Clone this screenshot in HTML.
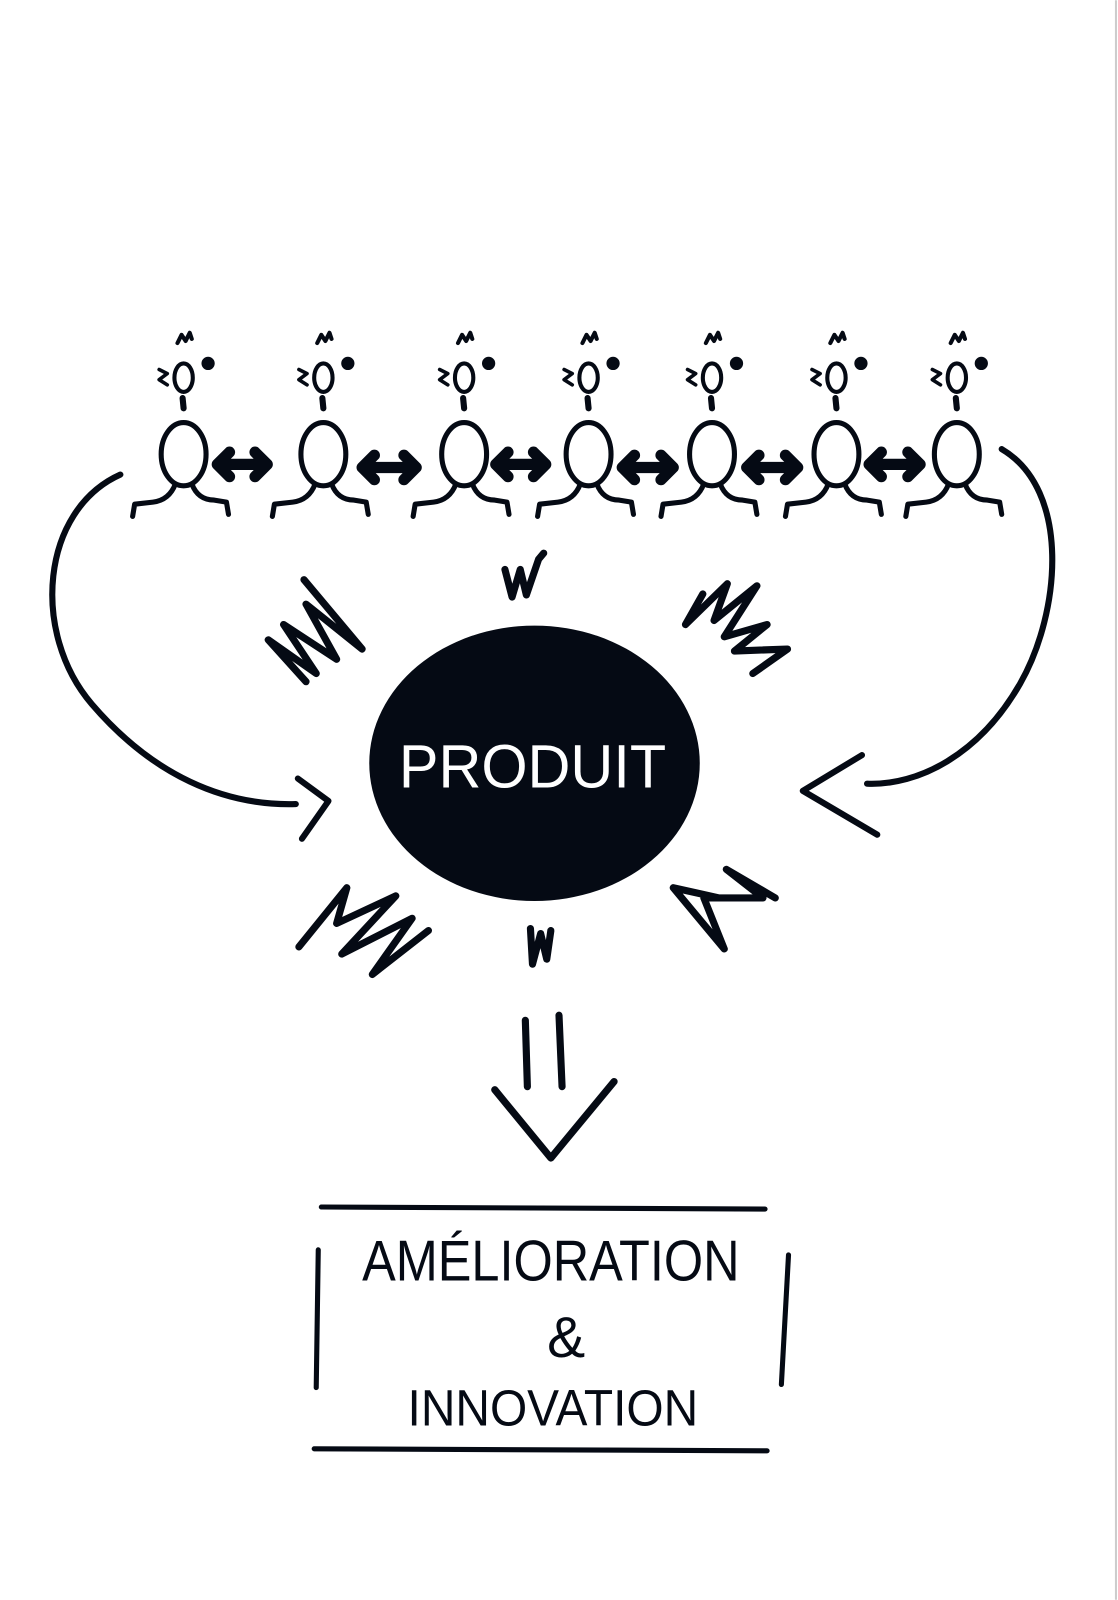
<!DOCTYPE html>
<html><head><meta charset="utf-8"><style>
html,body{margin:0;padding:0;background:#fff;width:1118px;height:1600px;overflow:hidden}
svg{display:block}
text{font-family:"Liberation Sans",sans-serif}
</style></head><body>
<svg width="1118" height="1600" viewBox="0 0 1096 1568" xmlns="http://www.w3.org/2000/svg">
<defs>
<g id="p" fill="none" stroke="#050a14" stroke-linecap="round" stroke-linejoin="round" stroke-width="5">
 <ellipse cx="0" cy="445" rx="22" ry="31"/>
 <path d="M-8 474 Q-14 490 -30 492 L-48 494 M-48 494 L-50 506 M8 474 Q14 490 30 490 L42 492 L44 504"/>
 <ellipse cx="0" cy="370" rx="9" ry="14" stroke-width="4"/>
 <path d="M-1 390 L0 400" stroke-width="6"/>
 <path d="M-24 362 L-16 366 L-24 372 L-16 377" stroke-width="3.5"/>
 <circle cx="24" cy="356" r="4" fill="#050a14"/>
 <path d="M-6 336 L-2 328 L2 334 L6 326 L8 332" stroke-width="4"/>
</g>
</defs>
<rect width="1096" height="1568" fill="#fff"/>
<line x1="1094" y1="0" x2="1094" y2="1568" stroke="#ccc" stroke-width="2"/>
<use href="#p" x="180"/><use href="#p" x="317"/><use href="#p" x="455"/><use href="#p" x="577"/><use href="#p" x="698"/><use href="#p" x="820"/><use href="#p" x="938"/>
<g fill="none" stroke="#050a14" stroke-linecap="round" stroke-linejoin="round">
<g stroke-width="11">
 <path d="M213 455 H262 M225 443 L213 455 L225 467 M250 443 L262 455 L250 467"/>
 <path d="M355 458 H408 M367 446 L355 458 L367 470 M396 446 L408 458 L396 470"/>
 <path d="M486 455 H535 M498 443 L486 455 L498 467 M523 443 L535 455 L523 467"/>
 <path d="M610 458 H660 M622 446 L610 458 L622 470 M648 446 L660 458 L648 470"/>
 <path d="M732 458 H782 M744 446 L732 458 L744 470 M770 446 L782 458 L770 470"/>
 <path d="M852 455 H902 M864 443 L852 455 L864 467 M890 443 L902 455 L890 467"/>
</g>
<g stroke-width="6">
 <path d="M118 465 C40 500 30 620 90 690 C150 760 220 790 290 788"/>
 <path d="M292 763 L322 785 L296 822"/>
 <path d="M982 440 C1050 480 1040 600 1000 670 C960 740 900 770 850 768"/>
 <path d="M845 740 L787 775 L860 818"/>
</g>
<g stroke-width="7">
 <path d="M495 558 L502 585 L510 558 L516 583 L528 548 L533 542"/>
 <path d="M298 568 L355 636 L300 592 L330 646 L278 612 L310 660 L263 627 L300 668"/>
 <path d="M689 582 L672 612 L713 572 L700 608 L742 574 L710 624 L752 612 L720 638 L772 636 L738 660"/>
 <path d="M293 928 L340 870 L330 905 L388 878 L335 935 L404 900 L365 955 L420 912"/>
 <path d="M520 910 L522 945 L530 915 L536 940 L540 912"/>
 <path d="M705 880 L660 870 L710 930 L690 880 L748 880 L712 852 L760 880"/>
</g>
<ellipse cx="524" cy="748" rx="162" ry="135" fill="#050a14" stroke="none"/>
<g stroke-width="7">
 <path d="M515 1000 L517 1065 M548 995 L551 1065"/>
 <path d="M485 1068 L540 1135 L602 1060"/>
</g>
<g stroke-width="5">
 <path d="M315 1183 L750 1185 M308 1420 L752 1422 M312 1225 L310 1360 M773 1230 L766 1357"/>
</g>
</g>
<text x="522" y="772" fill="#fff" font-size="60" text-anchor="middle" textLength="262" lengthAdjust="spacingAndGlyphs">PRODUIT</text>
<text x="540" y="1255" fill="#050a14" font-size="56" text-anchor="middle" textLength="370" lengthAdjust="spacingAndGlyphs">AMÉLIORATION</text>
<text x="555" y="1330" fill="#050a14" font-size="56" text-anchor="middle">&amp;</text>
<text x="542" y="1397" fill="#050a14" font-size="50" text-anchor="middle" textLength="285" lengthAdjust="spacingAndGlyphs">INNOVATION</text>
</svg>
</body></html>
